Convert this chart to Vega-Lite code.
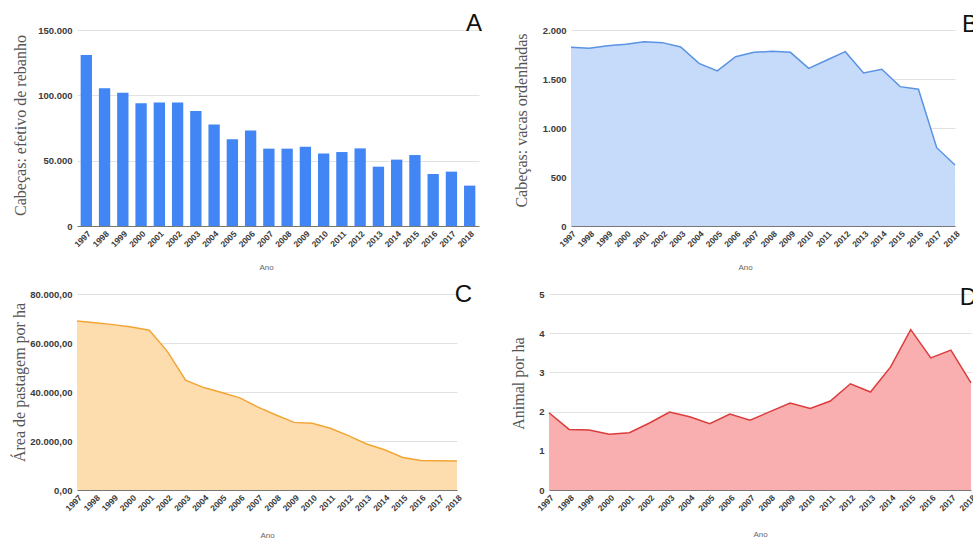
{
  "$schema": "https://vega.github.io/schema/vega-lite/v6.json",
  "padding": {"left": 10, "top": 12, "right": 0, "bottom": 0},
  "background": "white",
  "data": {"values": [
    {"ano": "1997", "rebanho": 130900, "vacas": 1823, "pastagem": 69000, "animal": 1.97},
    {"ano": "1998", "rebanho": 105400, "vacas": 1813, "pastagem": 68300, "animal": 1.545},
    {"ano": "1999", "rebanho": 102000, "vacas": 1840, "pastagem": 67500, "animal": 1.53},
    {"ano": "2000", "rebanho": 93900, "vacas": 1854, "pastagem": 66500, "animal": 1.42},
    {"ano": "2001", "rebanho": 94600, "vacas": 1881, "pastagem": 65200, "animal": 1.46},
    {"ano": "2002", "rebanho": 94600, "vacas": 1871, "pastagem": 56500, "animal": 1.71},
    {"ano": "2003", "rebanho": 88000, "vacas": 1827, "pastagem": 44800, "animal": 1.99},
    {"ano": "2004", "rebanho": 77600, "vacas": 1660, "pastagem": 41800, "animal": 1.87},
    {"ano": "2005", "rebanho": 66300, "vacas": 1582, "pastagem": 39800, "animal": 1.69},
    {"ano": "2006", "rebanho": 73000, "vacas": 1728, "pastagem": 37600, "animal": 1.94},
    {"ano": "2007", "rebanho": 59200, "vacas": 1772, "pastagem": 33800, "animal": 1.78},
    {"ano": "2008", "rebanho": 59200, "vacas": 1782, "pastagem": 30600, "animal": 2.0},
    {"ano": "2009", "rebanho": 60700, "vacas": 1772, "pastagem": 27600, "animal": 2.22},
    {"ano": "2010", "rebanho": 55400, "vacas": 1609, "pastagem": 27200, "animal": 2.08},
    {"ano": "2011", "rebanho": 56600, "vacas": 1694, "pastagem": 25200, "animal": 2.27},
    {"ano": "2012", "rebanho": 59400, "vacas": 1779, "pastagem": 22200, "animal": 2.71},
    {"ano": "2013", "rebanho": 45400, "vacas": 1561, "pastagem": 18800, "animal": 2.5},
    {"ano": "2014", "rebanho": 50800, "vacas": 1599, "pastagem": 16400, "animal": 3.14},
    {"ano": "2015", "rebanho": 54300, "vacas": 1422, "pastagem": 13300, "animal": 4.09},
    {"ano": "2016", "rebanho": 39800, "vacas": 1395, "pastagem": 12000, "animal": 3.37},
    {"ano": "2017", "rebanho": 41600, "vacas": 799, "pastagem": 11900, "animal": 3.57},
    {"ano": "2018", "rebanho": 30900, "vacas": 622, "pastagem": 11800, "animal": 2.73}
  ]},
  "spacing": 12,
  "vconcat": [
    {
      "bounds": "flush",
      "spacing": 92,
      "hconcat": [
        {
          "width": 402, "height": 196,
          "title": {"text": "A", "anchor": "end", "frame": "group", "dx": 3, "dy": 15},
          "mark": {"type": "bar", "color": "#4285f4"},
          "encoding": {
            "x": {"field": "ano", "type": "ordinal", "scale": {"paddingInner": 0.38, "paddingOuter": 0.2},
                  "axis": {"title": "Ano", "titleX": 189, "titleY": 43}},
            "y": {"field": "rebanho", "type": "quantitative", "scale": {"domain": [0, 150000]},
                  "axis": {"title": "Cabeças: efetivo de rebanho", "values": [0, 50000, 100000, 150000], "format": ",.0f", "titleX": -52, "titleY": 95}}
          }
        },
        {
          "width": 384, "height": 196,
          "title": {"text": "B", "anchor": "end", "frame": "group", "dx": 23, "dy": 16},
          "mark": {"type": "area", "color": "#c6dafa", "opacity": 1, "line": {"color": "#5a93e3", "strokeWidth": 1.5}},
          "encoding": {
            "x": {"field": "ano", "type": "ordinal", "scale": {"padding": 0},
                  "axis": {"title": "Ano", "titleX": 174, "titleY": 43}},
            "y": {"field": "vacas", "type": "quantitative", "scale": {"domain": [0, 2000]},
                  "axis": {"title": "Cabeças: vacas ordenhadas", "values": [0, 500, 1000, 1500, 2000], "format": ",.0f", "titleX": -45, "titleY": 90}}
          }
        }
      ]
    },
    {
      "bounds": "flush",
      "spacing": 92,
      "hconcat": [
        {
          "width": 380, "height": 196,
          "title": {"text": "C", "anchor": "end", "frame": "group", "dx": 15, "dy": 22},
          "mark": {"type": "area", "color": "#fddcad", "opacity": 1, "line": {"color": "#f2a536", "strokeWidth": 1.5}},
          "encoding": {
            "x": {"field": "ano", "type": "ordinal", "scale": {"padding": 0},
                  "axis": {"title": "Ano", "titleY": 47}},
            "y": {"field": "pastagem", "type": "quantitative", "scale": {"domain": [0, 80000]},
                  "axis": {"title": "Área de pastagem por ha", "values": [0, 20000, 40000, 60000, 80000], "format": ",.2f", "titleX": -53, "titleY": 88}}
          }
        },
        {
          "width": 422, "height": 196,
          "title": {"text": "D", "anchor": "end", "frame": "group", "dx": 6, "dy": 25},
          "mark": {"type": "area", "color": "#f9afaf", "opacity": 1, "line": {"color": "#dc3c3c", "strokeWidth": 1.5}},
          "encoding": {
            "x": {"field": "ano", "type": "ordinal", "scale": {"padding": 0},
                  "axis": {"title": "Ano", "titleY": 46}},
            "y": {"field": "animal", "type": "quantitative", "scale": {"domain": [0, 5]},
                  "axis": {"title": "Animal por ha", "values": [0, 1, 2, 3, 4, 5], "format": "d", "titleX": -26, "titleY": 89}}
          }
        }
      ]
    }
  ],
  "config": {
    "locale": {"number": {"decimal": ",", "thousands": ".", "grouping": [3], "currency": ["R$", ""]}},
    "view": {"stroke": null},
    "title": {"font": "Liberation Sans", "fontSize": 24, "fontWeight": "normal", "color": "#111", "baseline": "alphabetic", "offset": 0},
    "axis": {
      "labelFont": "Liberation Sans", "labelFontWeight": "bold", "labelFontSize": 9.5, "labelColor": "#3a3a3a",
      "ticks": false, "domain": false, "gridColor": "#e2e2e2"
    },
    "axisX": {
      "domain": true, "domainColor": "#777", "grid": false, "labelAngle": -45, "labelPadding": 3, "labelFontSize": 8.5,
      "titleFont": "Liberation Sans", "titleFontSize": 8, "titleFontWeight": "normal", "titleColor": "#666", "titleBaseline": "alphabetic"
    },
    "axisY": {
      "grid": true, "labelPadding": 5,
      "titleFont": "Liberation Serif", "titleFontSize": 16, "titleFontWeight": "normal", "titleColor": "#555", "titleBaseline": "alphabetic"
    }
  }
}
